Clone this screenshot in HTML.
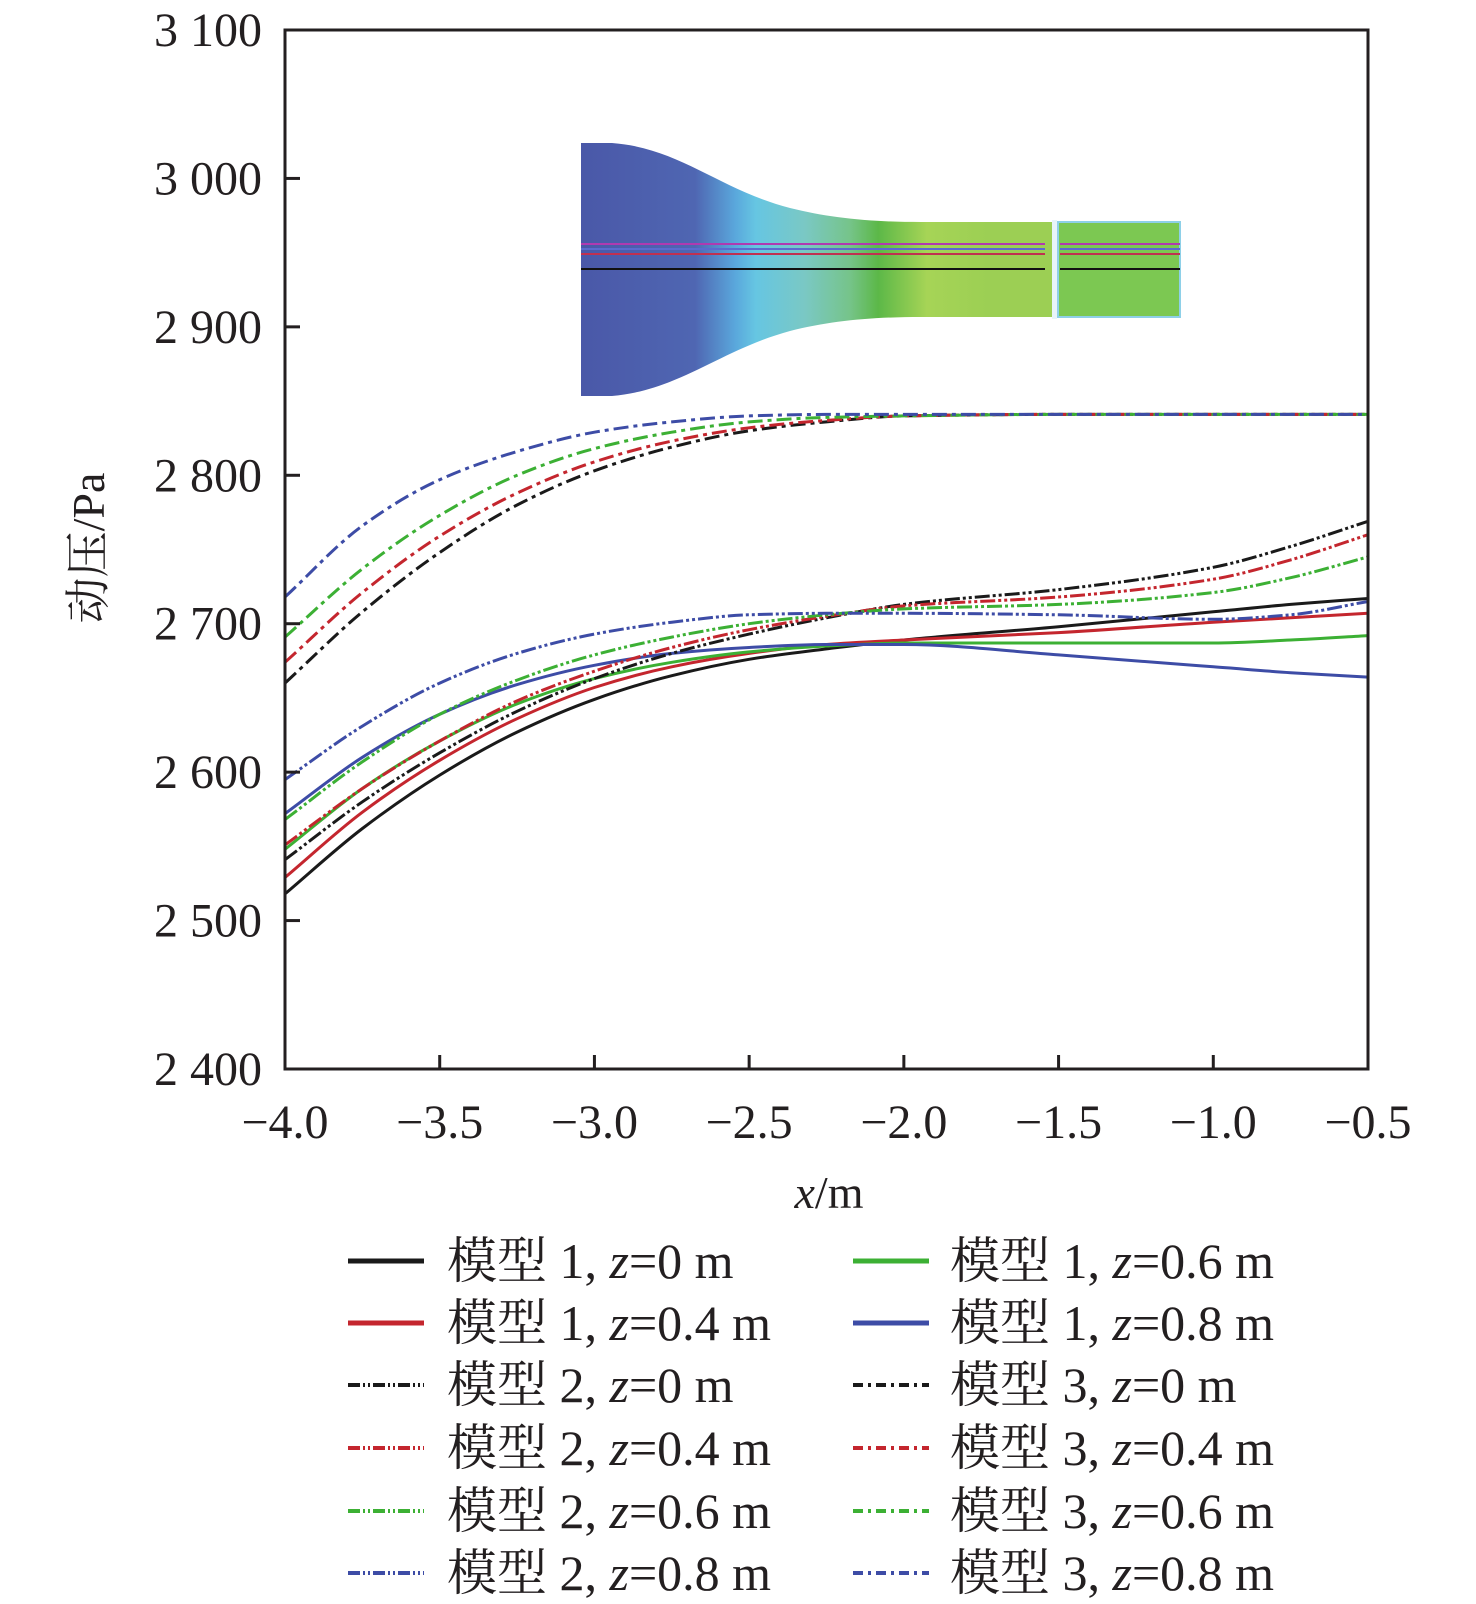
<!DOCTYPE html>
<html><head><meta charset="utf-8">
<style>
html,body{margin:0;padding:0;background:#fff;}
svg{display:block;}
text{font-family:"Liberation Serif","Noto Serif CJK SC",serif;fill:#231f20;}
</style></head>
<body>
<svg id="chart" width="1476" height="1604" viewBox="0 0 1476 1604" xmlns="http://www.w3.org/2000/svg">
<defs>
<linearGradient id="flowGrad" x1="581" y1="0" x2="988" y2="0" gradientUnits="userSpaceOnUse">
<stop offset="0" stop-color="#4a58a8"/>
<stop offset="0.28" stop-color="#4f66b2"/>
<stop offset="0.38" stop-color="#5aa8dc"/>
<stop offset="0.43" stop-color="#66c6e2"/>
<stop offset="0.55" stop-color="#7ac8c4"/>
<stop offset="0.66" stop-color="#76c48a"/>
<stop offset="0.73" stop-color="#5cb848"/>
<stop offset="0.85" stop-color="#a6d456"/>
<stop offset="1" stop-color="#9ccf54"/>
</linearGradient>
</defs>
<g id="inset">
<path fill="url(#flowGrad)" d="M581,143 L612,143 C680,148 720,190 790,208 C830,218 870,222 921,222 L1054,222 L1054,317 L921,317 C870,317 830,321 790,331 C720,350 680,390 612,396 L581,396 Z"/>
<rect x="1058" y="222" width="122" height="95" fill="#7cc852" stroke="#8ed0e8" stroke-width="2"/>
<rect x="1052" y="220" width="5" height="99" fill="#e8f4fa"/>
<g stroke-width="2">
<line x1="581" y1="244" x2="1045" y2="244" stroke="#b03ab0"/>
<line x1="1060" y1="244" x2="1180" y2="244" stroke="#b03ab0"/>
<line x1="581" y1="249" x2="1045" y2="249" stroke="#5a6ad0"/>
<line x1="1060" y1="249" x2="1180" y2="249" stroke="#5a6ad0"/>
<line x1="581" y1="254" x2="1045" y2="254" stroke="#c03050"/>
<line x1="1060" y1="254" x2="1180" y2="254" stroke="#c03050"/>
<line x1="581" y1="269" x2="1045" y2="269" stroke="#111"/>
<line x1="1060" y1="269" x2="1180" y2="269" stroke="#111"/>
</g>
</g>
<g id="series"></g>
<g id="axes"></g>
<text x="829" y="1208" font-size="46" text-anchor="middle"><tspan font-style="italic">x</tspan>/m</text>
<text x="0" y="0" font-size="46" text-anchor="middle" transform="translate(104,548) rotate(-90)">动压/Pa</text>
<g id="legend"></g>
</svg>
<script>
const xs = [-4.0, -3.75, -3.5, -3.25, -3.0, -2.75, -2.5, -2.25, -2.0, -1.5, -1.0, -0.75, -0.5];
const m1z0  = [2518,2562,2598,2627,2649,2665,2676,2683,2689,2698,2708,2713,2717];
const m1z04 = [2529,2573,2608,2636,2657,2671,2680,2686,2689,2694,2701,2704,2707];
const m1z06 = [2548,2589,2621,2646,2663,2674,2681,2685,2687,2687,2687,2689,2692];
const m1z08 = [2572,2610,2639,2659,2672,2680,2684,2686,2686,2679,2671,2667,2664];
const m2z0  = [2541,2580,2613,2641,2663,2680,2693,2704,2713,2723,2738,2752,2769];
const m2z04 = [2551,2589,2621,2648,2668,2684,2696,2705,2712,2718,2730,2743,2760];
const m2z06 = [2568,2607,2639,2662,2679,2691,2700,2706,2710,2713,2721,2731,2745];
const m2z08 = [2595,2631,2660,2680,2693,2701,2706,2707,2707,2706,2703,2706,2715];
const m3z0  = [2660,2708,2748,2780,2803,2819,2830,2836,2840,2841,2841,2841,2841];
const m3z04 = [2674,2721,2759,2788,2809,2823,2832,2837,2840,2841,2841,2841,2841];
const m3z06 = [2691,2737,2773,2800,2818,2829,2836,2839,2840,2841,2841,2841,2841];
const m3z08 = [2718,2766,2797,2816,2829,2836,2840,2841,2841,2841,2841,2841,2841];
const xTicks = [-4.0,-3.5,-3.0,-2.5,-2.0,-1.5,-1.0,-0.5];
const xTickLabels = ["\u22124.0","\u22123.5","\u22123.0","\u22122.5","\u22122.0","\u22121.5","\u22121.0","\u22120.5"];
const yTicks = [2400,2500,2600,2700,2800,2900,3000,3100];
const yTickLabels = ["2 400","2 500","2 600","2 700","2 800","2 900","3 000","3 100"];

const NS = "http://www.w3.org/2000/svg";
const L = 285, R = 1368, T = 30, B = 1069;
function xScale(v){ return L + (v - (-4.0)) / 3.5 * (R - L); }
function yScale(v){ return B - (v - 2400) / 700 * (B - T); }
const BLACK="#1a1a1a", RED="#c4262e", GREEN="#3cb034", BLUE="#3d4ca6";
const DASH2="15 3 3 3 3 3", DASH3="15 5 4 5";
const series = [
 {name:"model1-z0", d:m1z0, c:BLACK, dash:null, model:"1", z:"0"},
 {name:"model1-z0.4", d:m1z04, c:RED, dash:null, model:"1", z:"0.4"},
 {name:"model1-z0.6", d:m1z06, c:GREEN, dash:null, model:"1", z:"0.6"},
 {name:"model1-z0.8", d:m1z08, c:BLUE, dash:null, model:"1", z:"0.8"},
 {name:"model2-z0", d:m2z0, c:BLACK, dash:DASH2, model:"2", z:"0"},
 {name:"model2-z0.4", d:m2z04, c:RED, dash:DASH2, model:"2", z:"0.4"},
 {name:"model2-z0.6", d:m2z06, c:GREEN, dash:DASH2, model:"2", z:"0.6"},
 {name:"model2-z0.8", d:m2z08, c:BLUE, dash:DASH2, model:"2", z:"0.8"},
 {name:"model3-z0", d:m3z0, c:BLACK, dash:DASH3, model:"3", z:"0"},
 {name:"model3-z0.4", d:m3z04, c:RED, dash:DASH3, model:"3", z:"0.4"},
 {name:"model3-z0.6", d:m3z06, c:GREEN, dash:DASH3, model:"3", z:"0.6"},
 {name:"model3-z0.8", d:m3z08, c:BLUE, dash:DASH3, model:"3", z:"0.8"}
];
function smoothPath(pts){
  const n = pts.length, dx=[], sl=[], m=[];
  for(let i=0;i<n-1;i++){ dx[i]=pts[i+1][0]-pts[i][0]; sl[i]=(pts[i+1][1]-pts[i][1])/dx[i]; }
  m[0]=sl[0]; m[n-1]=sl[n-2];
  for(let i=1;i<n-1;i++){
    if(sl[i-1]*sl[i]<=0) m[i]=0;
    else { const w1=2*dx[i]+dx[i-1], w2=dx[i]+2*dx[i-1]; m[i]=(w1+w2)/(w1/sl[i-1]+w2/sl[i]); }
  }
  let s = "M" + pts[0][0].toFixed(1) + "," + pts[0][1].toFixed(1);
  for(let i=0;i<n-1;i++){
    const h=dx[i]/3;
    s += " C"+(pts[i][0]+h).toFixed(1)+","+(pts[i][1]+m[i]*h).toFixed(1)+" "+(pts[i+1][0]-h).toFixed(1)+","+(pts[i+1][1]-m[i+1]*h).toFixed(1)+" "+pts[i+1][0].toFixed(1)+","+pts[i+1][1].toFixed(1);
  }
  return s;
}
const gS = document.getElementById("series");
series.forEach(s=>{
  const pts = xs.map((x,i)=>[xScale(x), yScale(s.d[i])]);
  const p = document.createElementNS(NS,"path");
  p.setAttribute("d", smoothPath(pts));
  p.setAttribute("fill","none");
  p.setAttribute("stroke", s.c);
  p.setAttribute("stroke-width","3");
  if(s.dash) p.setAttribute("stroke-dasharray", s.dash);
  
  
  gS.appendChild(p);
});
const gA = document.getElementById("axes");
const frame = document.createElementNS(NS,"rect");
frame.setAttribute("x",L); frame.setAttribute("y",T);
frame.setAttribute("width",R-L); frame.setAttribute("height",B-T);
frame.setAttribute("fill","none"); frame.setAttribute("stroke","#231f20"); frame.setAttribute("stroke-width","3");


gA.appendChild(frame);
xTicks.forEach((v,i)=>{
  const x = xScale(v);
  const t = document.createElementNS(NS,"line");
  t.setAttribute("x1",x); t.setAttribute("x2",x); t.setAttribute("y1",B); t.setAttribute("y2",B-14);
  t.setAttribute("stroke","#231f20"); t.setAttribute("stroke-width","3");
  
  
  gA.appendChild(t);
  const lb = document.createElementNS(NS,"text");
  lb.setAttribute("x",x); lb.setAttribute("y",1138);
  lb.setAttribute("font-size","48"); lb.setAttribute("text-anchor","middle");
  lb.textContent = xTickLabels[i];
  
  
  gA.appendChild(lb);
});
yTicks.forEach((v,i)=>{
  const y = yScale(v);
  const t = document.createElementNS(NS,"line");
  t.setAttribute("x1",L); t.setAttribute("x2",L+15); t.setAttribute("y1",y); t.setAttribute("y2",y);
  t.setAttribute("stroke","#231f20"); t.setAttribute("stroke-width","3");
  
  
  gA.appendChild(t);
  const lb = document.createElementNS(NS,"text");
  lb.setAttribute("x",262); lb.setAttribute("y",y+16);
  lb.setAttribute("font-size","48"); lb.setAttribute("text-anchor","end");
  lb.textContent = yTickLabels[i];
  
  
  gA.appendChild(lb);
});
const gL = document.getElementById("legend");
const legendOrder = [0,1,4,5,6,7,2,3,8,9,10,11];
const rowsY = [1261,1323,1385,1448,1511,1573];
legendOrder.forEach((si,k)=>{
  const s = series[si];
  const col = k<6 ? 0 : 1, row = k%6;
  const lx = col===0 ? 348 : 853, tx = col===0 ? 447 : 950;
  const y = rowsY[row];
  const ln = document.createElementNS(NS,"line");
  ln.setAttribute("x1",lx); ln.setAttribute("x2",lx+76); ln.setAttribute("y1",y); ln.setAttribute("y2",y);
  ln.setAttribute("stroke",s.c); ln.setAttribute("stroke-width", s.dash ? "4" : "5");
  if(s.dash) ln.setAttribute("stroke-dasharray", s.dash===DASH2 ? "12 3 2 3 2 3" : "10 5 3 5");
  
  
  gL.appendChild(ln);
  const tx0 = document.createElementNS(NS,"text");
  tx0.setAttribute("x",tx); tx0.setAttribute("y",y+17);
  tx0.setAttribute("font-size","50");
  tx0.innerHTML = '模型 ' + s.model + ', <tspan font-style="italic">z</tspan>=' + s.z + ' m';
  
  
  gL.appendChild(tx0);
});
</script>
</body></html>
